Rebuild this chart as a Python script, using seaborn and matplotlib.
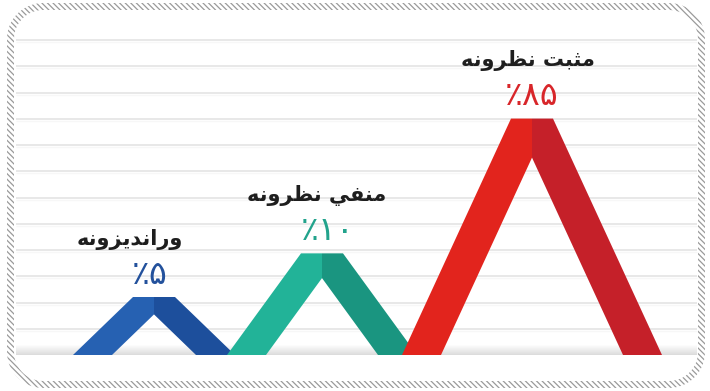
import numpy as np
import matplotlib
matplotlib.use("Agg")
import matplotlib.pyplot as plt
from matplotlib.path import Path
from matplotlib.patches import PathPatch, Polygon
from matplotlib.scale import SymmetricalLogTransform
import seaborn as sns

# --- data -------------------------------------------------------------
categories = ["وراندیزونه", "منفي نظرونه", "مثبت نظرونه"]
values = [5, 10, 85]

# --- style ------------------------------------------------------------
left_colors = ["#2661b2", "#22b398", "#e2241d"]
right_colors = ["#1d4f9c", "#1a9580", "#c52029"]
pct_colors = ["#23519c", "#22a38c", "#d8262a"]

sns.set_theme(style="white")
plt.rcParams["font.family"] = ["DejaVu Sans"]
plt.rcParams["hatch.linewidth"] = 0.9

# geometry of the drawing area (pixel units, y grows downward)
W_PX, H_PX = 710, 391
BASE = 355            # floor line of the peaks
centers = [154, 322, 532]
half_base = [81, 95, 130]
name_dx = [-24, -5, -4]
pct_dx = [-4, 6, 0]
HALF_TOP = 21         # half width of the flat cut on top of each peak
LEG = 39              # horizontal thickness of a leg
PX_PER_UNIT = 29.0    # height of one scale unit

ARABIC_FORMS = {
    "ا": ("\uFE8D", "\uFE8E", None, None),
    "ب": ("\uFE8F", "\uFE90", "\uFE91", "\uFE92"),
    "ت": ("\uFE95", "\uFE96", "\uFE97", "\uFE98"),
    "ث": ("\uFE99", "\uFE9A", "\uFE9B", "\uFE9C"),
    "د": ("\uFEA9", "\uFEAA", None, None),
    "ر": ("\uFEAD", "\uFEAE", None, None),
    "ز": ("\uFEAF", "\uFEB0", None, None),
    "ظ": ("\uFEC5", "\uFEC6", "\uFEC7", "\uFEC8"),
    "ف": ("\uFED1", "\uFED2", "\uFED3", "\uFED4"),
    "م": ("\uFEE1", "\uFEE2", "\uFEE3", "\uFEE4"),
    "ن": ("\uFEE5", "\uFEE6", "\uFEE7", "\uFEE8"),
    "ه": ("\uFEE9", "\uFEEA", "\uFEEB", "\uFEEC"),
    "و": ("\uFEED", "\uFEEE", None, None),
    "ي": ("\uFEF1", "\uFEF2", "\uFEF3", "\uFEF4"),
    "ی": ("\uFBFC", "\uFBFD", "\uFBFE", "\uFBFF"),
}
RIGHT_JOIN_ONLY = set("ادذرزژو")


def shape_rtl(text):
    """Contextual Arabic-script forms, returned in visual (left-to-right) order."""
    out = []
    for i, ch in enumerate(text):
        if ch not in ARABIC_FORMS:
            out.append(ch)
            continue
        prev = text[i - 1] if i > 0 else None
        nxt = text[i + 1] if i + 1 < len(text) else None
        join_prev = prev in ARABIC_FORMS and prev not in RIGHT_JOIN_ONLY
        join_next = nxt in ARABIC_FORMS and ch not in RIGHT_JOIN_ONLY
        iso, fin, ini, med = ARABIC_FORMS[ch]
        if join_prev and join_next:
            out.append(med)
        elif join_prev:
            out.append(fin)
        elif join_next:
            out.append(ini)
        else:
            out.append(iso)
    return "".join(reversed(out))


FA_DIGITS = str.maketrans("0123456789", "۰۱۲۳۴۵۶۷۸۹")


def pct_label(v):
    return "٪" + str(v).translate(FA_DIGITS)


def rounded_rect(x0, y0, x1, y1, r, n=14):
    t = np.linspace(0, np.pi / 2, n)
    segs = []
    for cx, cy, a0 in [(x1 - r, y0 + r, -np.pi / 2), (x1 - r, y1 - r, 0),
                       (x0 + r, y1 - r, np.pi / 2), (x0 + r, y0 + r, np.pi)]:
        a = a0 + t
        segs.append(np.column_stack([cx + r * np.cos(a), cy + r * np.sin(a)]))
    return np.vstack(segs)


fig = plt.figure(figsize=(W_PX / 100, H_PX / 100), dpi=100)
fig.patch.set_facecolor("white")
ax = fig.add_axes([0, 0, 1, 1])
ax.set_xlim(0, W_PX)
ax.set_ylim(H_PX, 0)
ax.axis("off")

# hatched rounded frame
outer = rounded_rect(7, 3, 705, 388, 36)
inner = rounded_rect(14, 10, 698, 381, 29)
verts = np.vstack([outer, outer[:1], inner[::-1], inner[-1:]])
codes = ([Path.MOVETO] + [Path.LINETO] * (len(outer) - 1) + [Path.CLOSEPOLY]
         + [Path.MOVETO] + [Path.LINETO] * (len(inner) - 1) + [Path.CLOSEPOLY])
ax.add_patch(PathPatch(Path(verts, codes), facecolor="none", edgecolor="#9a9a9a",
                       lw=0, hatch="\\\\\\\\\\\\"))

# ruled background
for y in np.linspace(40, BASE, 13)[:-1]:
    ax.plot([16, 697], [y, y], color="#e8e8e8", lw=1.4, solid_capstyle="butt", zorder=1)
    ax.plot([16, 697], [y + 2.0, y + 2.0], color="#f7f7f7", lw=1.0, solid_capstyle="butt", zorder=1)

# soft floor shadow
for k in range(10):
    ax.fill_between([16, 697], BASE - 10 + k, BASE - 9 + k, color="#b9b9b9",
                    alpha=0.04 + 0.05 * k, lw=0, zorder=1)

# peak heights from the values (log-like scale so small shares stay visible)
scale = SymmetricalLogTransform(base=10, linthresh=5, linscale=0.36)
heights = scale.transform(np.asarray(values, dtype=float)) * PX_PER_UNIT

for i, (cat, v) in enumerate(zip(categories, values)):
    xc, b, h = centers[i], half_base[i], heights[i]
    top = BASE - h
    vy = BASE - (b - LEG) * h / (b - HALF_TOP)
    left = [(xc - b, BASE), (xc - HALF_TOP, top), (xc, top), (xc, vy), (xc - b + LEG, BASE)]
    right = [(xc + b, BASE), (xc + HALF_TOP, top), (xc, top), (xc, vy), (xc + b - LEG, BASE)]
    ax.add_patch(Polygon(left, closed=True, facecolor=left_colors[i], edgecolor="none", zorder=3 + i))
    ax.add_patch(Polygon(right, closed=True, facecolor=right_colors[i], edgecolor="none", zorder=3 + i))

    ax.text(xc + pct_dx[i], top - 23, pct_label(v), ha="center", va="center", fontsize=24,
            color=pct_colors[i], zorder=10)
    ax.text(xc + name_dx[i], top - 58, shape_rtl(cat), ha="center", va="center", fontsize=15,
            fontweight="bold", color="#1e1e1e", zorder=10)

fig.savefig("out.png", dpi=100, facecolor="white")
